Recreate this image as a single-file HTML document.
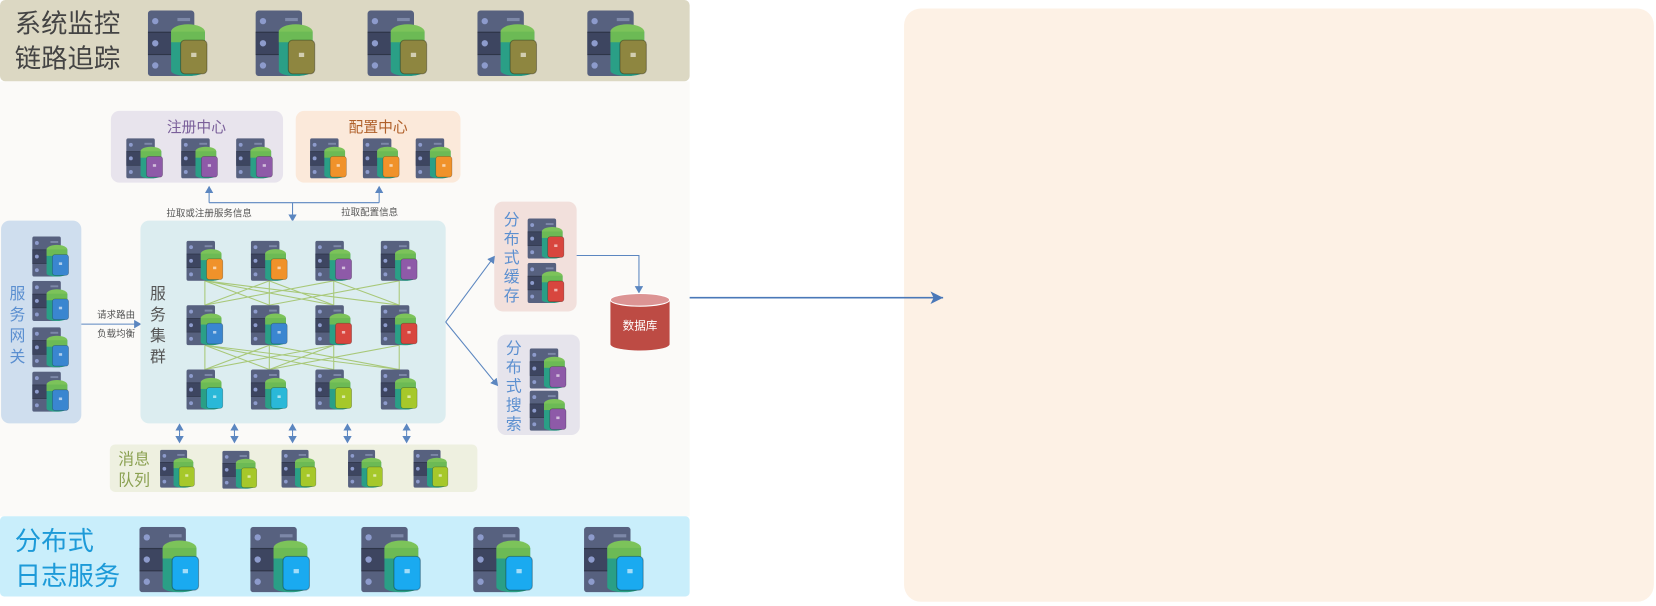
<!DOCTYPE html>
<html><head><meta charset="utf-8"><style>
html,body{margin:0;padding:0;background:#fff}
svg{display:block}
text{font-family:"Liberation Sans","Noto Sans CJK SC",sans-serif}
</style></head><body>
<svg width="1656" height="606" viewBox="0 0 1568 574" preserveAspectRatio="none" xmlns="http://www.w3.org/2000/svg">
<defs>
<symbol id="srv" viewBox="0 0 60 62">
<rect x="0" y="0" width="44" height="62" rx="3" fill="#57617f"/>
<rect x="0" y="21" width="44" height="20" fill="#3d4560"/>
<rect x="0" y="20" width="44" height="1.2" fill="#2e3548"/>
<rect x="0" y="41" width="44" height="1.2" fill="#2e3548"/>
<circle cx="7" cy="10" r="3" fill="#8d9bcc"/><circle cx="7" cy="31" r="3" fill="#8d9bcc"/><circle cx="7" cy="52" r="3" fill="#8d9bcc"/>
<rect x="28" y="7" width="12" height="3" fill="#7d88a8"/>
<rect x="22" y="20" width="32" height="37" fill="#2a9f86"/>
<ellipse cx="38" cy="57" rx="16" ry="5" fill="#2a9f86"/>
<ellipse cx="38" cy="20" rx="16" ry="7" fill="#7cc35a"/>
<rect x="22" y="20" width="32" height="10" fill="#6cba55"/>
<rect x="31" y="28" width="25" height="32" rx="4" fill="currentColor" stroke="rgba(0,0,0,0.3)" stroke-width="1"/>
<rect x="41" y="40" width="5" height="4" fill="rgba(255,255,255,0.6)"/>
</symbol>
<marker id="ah" markerWidth="8" markerHeight="8" refX="6" refY="4" orient="auto" markerUnits="userSpaceOnUse"><path d="M0,0 L7,4 L0,8 z" fill="#5b86c0"/></marker>
<marker id="ahb" markerWidth="14" markerHeight="12" refX="12" refY="6" orient="auto" markerUnits="userSpaceOnUse"><path d="M0,0 L12,6 L0,12 L3,6 z" fill="#4a78b8"/></marker>
</defs>

<rect x="0" y="77" width="653" height="412" fill="#fbfaf8"/>
<rect x="0" y="0" width="653" height="77" rx="5" fill="#dcd8c3"/>
<text x="14" y="31" font-size="25" fill="#444">系统监控</text>
<text x="14" y="64" font-size="25" fill="#444">链路追踪</text>
<g color="#8e8640">
<use href="#srv" x="140" y="10" width="60" height="62"/>
<use href="#srv" x="242" y="10" width="60" height="62"/>
<use href="#srv" x="348" y="10" width="60" height="62"/>
<use href="#srv" x="452" y="10" width="60" height="62"/>
<use href="#srv" x="556" y="10" width="60" height="62"/>
</g>
<rect x="0" y="489" width="653" height="76" rx="4" fill="#c9eefb"/>
<text x="14" y="521" font-size="25" fill="#1d9ad8">分布式</text>
<text x="14" y="554" font-size="25" fill="#1d9ad8">日志服务</text>
<g color="#1aaaf0">
<use href="#srv" x="132" y="499" width="60" height="62"/>
<use href="#srv" x="237" y="499" width="60" height="62"/>
<use href="#srv" x="342" y="499" width="60" height="62"/>
<use href="#srv" x="448" y="499" width="60" height="62"/>
<use href="#srv" x="553" y="499" width="60" height="62"/>
</g>

<rect x="105" y="105" width="163" height="68" rx="8" fill="#e8e4ed"/>
<text x="186" y="125" font-size="14" fill="#7a5f9a" text-anchor="middle">注册中心</text>
<g color="#8e5aa8">
<use href="#srv" x="118" y="131" width="40" height="38"/>
<use href="#srv" x="170" y="131" width="40" height="38"/>
<use href="#srv" x="222" y="131" width="40" height="38"/>
</g>
<rect x="280" y="105" width="156" height="68" rx="8" fill="#fbe9da"/>
<text x="358" y="125" font-size="14" fill="#b0602a" text-anchor="middle">配置中心</text>
<g color="#f0922a">
<use href="#srv" x="292" y="131" width="40" height="38"/>
<use href="#srv" x="342" y="131" width="40" height="38"/>
<use href="#srv" x="392" y="131" width="40" height="38"/>
</g>
<g stroke="#5b86c0" stroke-width="1" fill="none">
<path d="M198,192 H359"/>
<path d="M198,192 V177" marker-end="url(#ah)"/>
<path d="M359,192 V177" marker-end="url(#ah)"/>
<path d="M277,192 V209" marker-end="url(#ah)"/>
</g>
<text x="198" y="205" font-size="9" fill="#555" text-anchor="middle">拉取或注册服务信息</text>
<text x="350" y="204" font-size="9" fill="#555" text-anchor="middle">拉取配置信息</text>

<rect x="1" y="209" width="76" height="192" rx="8" fill="#cfdeee"/>
<g font-size="15" fill="#5b8fd0">
<text x="9" y="283">服</text><text x="9" y="303">务</text><text x="9" y="323">网</text><text x="9" y="343">关</text>
</g>
<g color="#3a86d0">
<use href="#srv" x="30" y="224" width="38" height="38"/>
<use href="#srv" x="30" y="266" width="38" height="38"/>
<use href="#srv" x="30" y="310" width="38" height="38"/>
<use href="#srv" x="30" y="352" width="38" height="38"/>
</g>
<path d="M77,307 H133" stroke="#5b86c0" stroke-width="1" marker-end="url(#ah)"/>
<text x="110" y="301" font-size="9" fill="#555" text-anchor="middle">请求路由</text>
<text x="110" y="319" font-size="9" fill="#555" text-anchor="middle">负载均衡</text>

<rect x="133" y="209" width="289" height="192" rx="8" fill="#dcedf0"/>
<g font-size="15" fill="#555">
<text x="142" y="283">服</text><text x="142" y="303">务</text><text x="142" y="323">集</text><text x="142" y="343">群</text>
</g>
<g stroke="#a8c878" stroke-width="1">
<path d="M194,266L194,289M194,266L255,289M194,266L316,289M194,266L378,289M255,266L194,289M255,266L255,289M255,266L316,289M316,266L194,289M316,266L316,289M316,266L378,289M378,266L255,289M378,266L378,289"/>
<path d="M194,327L194,350M194,327L255,350M194,327L316,350M194,327L378,350M255,327L194,350M255,327L255,350M255,327L378,350M316,327L194,350M316,327L316,350M316,327L255,350M378,327L255,350M378,327L378,350"/>
</g>
<use href="#srv" x="175" y="228" width="40" height="38" color="#f0922a"/>
<use href="#srv" x="236" y="228" width="40" height="38" color="#f0922a"/>
<use href="#srv" x="297" y="228" width="40" height="38" color="#8e5aa8"/>
<use href="#srv" x="359" y="228" width="40" height="38" color="#8e5aa8"/>
<use href="#srv" x="175" y="289" width="40" height="38" color="#3a86d0"/>
<use href="#srv" x="236" y="289" width="40" height="38" color="#3a86d0"/>
<use href="#srv" x="297" y="289" width="40" height="38" color="#d8463e"/>
<use href="#srv" x="359" y="289" width="40" height="38" color="#d8463e"/>
<use href="#srv" x="175" y="350" width="40" height="38" color="#2ab8d8"/>
<use href="#srv" x="236" y="350" width="40" height="38" color="#2ab8d8"/>
<use href="#srv" x="297" y="350" width="40" height="38" color="#a6c82a"/>
<use href="#srv" x="359" y="350" width="40" height="38" color="#a6c82a"/>

<rect x="468" y="191" width="78" height="104" rx="8" fill="#f2e0dc"/>
<g font-size="15" fill="#5b8fd0">
<text x="477" y="213">分</text><text x="477" y="231">布</text><text x="477" y="249">式</text><text x="477" y="267">缓</text><text x="477" y="285">存</text>
</g>
<g color="#d8463e">
<use href="#srv" x="498" y="207" width="40" height="38"/>
<use href="#srv" x="498" y="249" width="40" height="38"/>
</g>
<rect x="471" y="317" width="78" height="95" rx="8" fill="#e6e4ec"/>
<g font-size="15" fill="#5b8fd0">
<text x="479" y="335">分</text><text x="479" y="353">布</text><text x="479" y="371">式</text><text x="479" y="389">搜</text><text x="479" y="407">索</text>
</g>
<g color="#8e5aa8">
<use href="#srv" x="500" y="330" width="40" height="38"/>
<use href="#srv" x="500" y="370" width="40" height="38"/>
</g>
<g stroke="#5b86c0" stroke-width="1" fill="none">
<path d="M422,305 L468,243" marker-end="url(#ah)"/>
<path d="M422,305 L471,365" marker-end="url(#ah)"/>
<path d="M546,242 H605 V277" marker-end="url(#ah)"/>
</g>
<path d="M578,284 V326 A28,6 0 0 0 634,326 V284 Z" fill="#bd4b44"/>
<ellipse cx="606" cy="284" rx="28" ry="6" fill="#dc9494" stroke="#fff" stroke-width="1"/>
<text x="606" y="312" font-size="11" fill="#fff" text-anchor="middle">数据库</text>

<rect x="104" y="421" width="348" height="45" rx="5" fill="#eef0e0"/>
<text x="112" y="440" font-size="15" fill="#8aa050">消息</text>
<text x="112" y="460" font-size="15" fill="#8aa050">队列</text>
<g color="#a6c82a">
<use href="#srv" x="150" y="426" width="38" height="36"/>
<use href="#srv" x="209" y="427" width="38" height="36"/>
<use href="#srv" x="265" y="426" width="38" height="36"/>
<use href="#srv" x="328" y="426" width="38" height="36"/>
<use href="#srv" x="390" y="426" width="38" height="36"/>
</g>
<g stroke="#5b86c0" stroke-width="1">
<path d="M170,410 V419" marker-end="url(#ah)"/><path d="M170,410 V402" marker-end="url(#ah)"/>
<path d="M222,410 V419" marker-end="url(#ah)"/><path d="M222,410 V402" marker-end="url(#ah)"/>
<path d="M277,410 V419" marker-end="url(#ah)"/><path d="M277,410 V402" marker-end="url(#ah)"/>
<path d="M329,410 V419" marker-end="url(#ah)"/><path d="M329,410 V402" marker-end="url(#ah)"/>
<path d="M385,410 V419" marker-end="url(#ah)"/><path d="M385,410 V402" marker-end="url(#ah)"/>
</g>

<rect x="856" y="8" width="710" height="562" rx="16" fill="#fdf1e5"/>
<path d="M653,282 H893" stroke="#4a78b8" stroke-width="1.5" marker-end="url(#ahb)"/>
</svg>
</body></html>
